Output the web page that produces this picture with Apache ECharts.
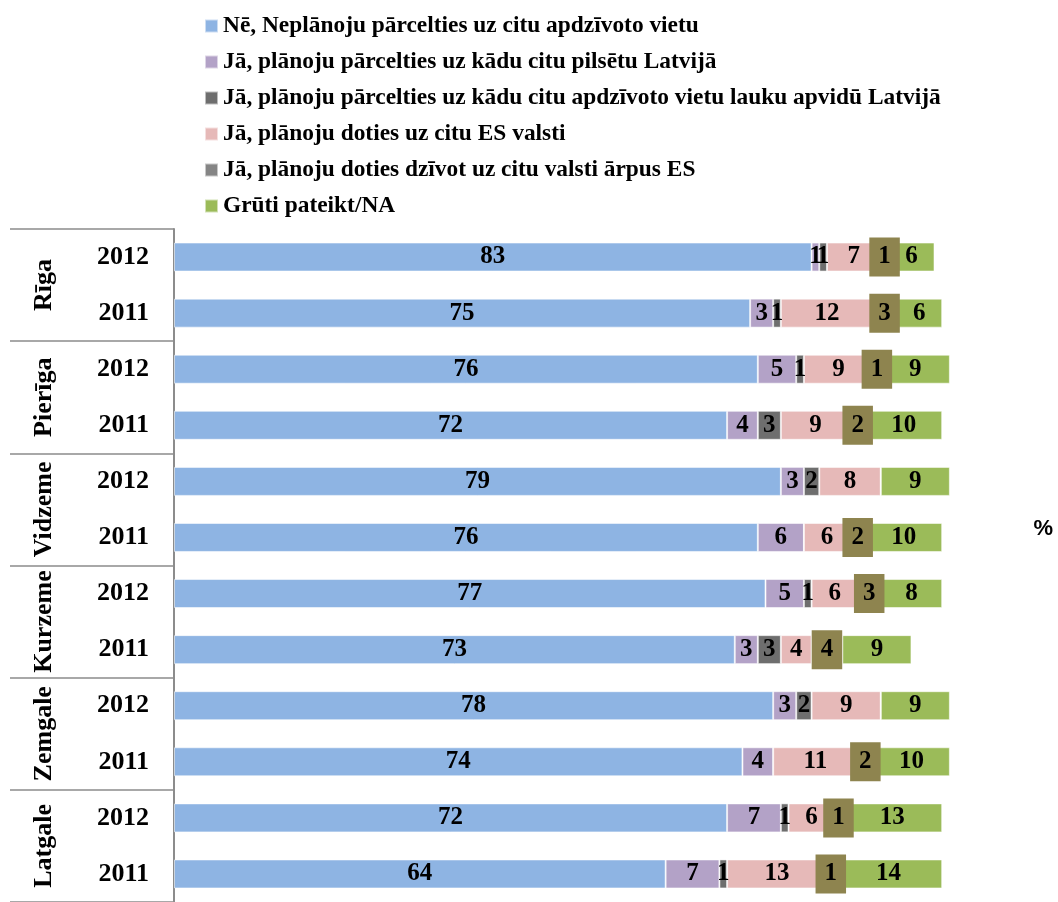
<!DOCTYPE html>
<html>
<head>
<meta charset="utf-8">
<script src="https://cdn.jsdelivr.net/npm/echarts@6/dist/echarts.min.js"></script>
<style>
  html, body { margin: 0; padding: 0; background: #fff; }
  #chart { width: 1058px; height: 902px; }
</style>
</head>
<body>
<div id="chart"></div>
<script>
// rows top to bottom
const years = ["2012", "2011", "2012", "2011", "2012", "2011", "2012", "2011", "2012", "2011", "2012", "2011"];
const regions = ["Rīga", "Pierīga", "Vidzeme", "Kurzeme", "Zemgale", "Latgale"];

const seriesNames = [
  "Nē, Neplānoju pārcelties uz citu apdzīvoto vietu",
  "Jā, plānoju pārcelties uz kādu citu pilsētu Latvijā",
  "Jā, plānoju pārcelties uz kādu citu apdzīvoto vietu lauku apvidū Latvijā",
  "Jā, plānoju doties uz citu ES valsti",
  "Jā, plānoju doties dzīvot uz citu valsti ārpus ES",
  "Grūti pateikt/NA"
];

const ne = [83, 75, 76, 72, 79, 76, 77, 73, 78, 74, 72, 64];
const pilsetu = [1, 3, 5, 4, 3, 6, 5, 3, 3, 4, 7, 7];
const lauku = [1, 1, 1, 3, 2, 0, 1, 3, 2, 0, 1, 1];
const esValsti = [7, 12, 9, 9, 8, 6, 6, 4, 9, 11, 6, 13];
const arpusEs = [1, 3, 1, 2, 0, 2, 3, 4, 0, 2, 1, 1];
const gruti = [6, 6, 9, 10, 9, 10, 8, 9, 9, 10, 13, 14];

const colors = ["#8eb4e3", "#b3a2c7", "#6e6e6e", "#e6b9b8", "#858585", "#9bbb59"];
const serif = "'Liberation Serif', 'Times New Roman', serif";

function makeSeries(i, values) {
  // zero values get no label at all (no empty box)
  var data = values.map(function(v) {
    return v > 0 ? v : { value: v, label: { show: false } };
  });
  var s = {
    name: seriesNames[i],
    type: "bar",
    stack: "total",
    barWidth: 29,
    data: data,
    itemStyle: {
      color: colors[i],
      borderColor: "rgba(255,255,255,0.55)",
      borderWidth: 1
    },
    label: {
      show: true,
      position: "inside",
      color: "#000",
      fontFamily: serif,
      fontWeight: "bold",
      fontSize: 25
    }
  };
  if (i === 4) {
    // olive box around the "outside EU" numbers
    s.z = 3;
    s.label.backgroundColor = "#8e844f";
    s.label.padding = [7, 9, 7, 9];
    s.label.lineHeight = 25;
  }
  return s;
}

const chart = echarts.init(document.getElementById("chart"));

const option = {
  animation: false,
  color: colors,
  title: {
    text: "%",
    right: 0,
    top: 513,
    textStyle: {
      fontFamily: "'Liberation Sans', Arial, sans-serif",
      fontWeight: "bold",
      fontSize: 22,
      color: "#000"
    }
  },
  legend: {
    orient: "vertical",
    left: 199,
    top: 9,
    itemWidth: 13,
    itemHeight: 13,
    itemGap: 12,
    icon: "rect",
    data: seriesNames,
    textStyle: {
      fontFamily: serif,
      fontWeight: "bold",
      fontSize: 23.4,
      lineHeight: 24,
      color: "#000"
    }
  },
  grid: {
    left: 174,
    top: 229,
    width: 845,
    height: 680
  },
  xAxis: {
    type: "value",
    min: 0,
    max: 110,
    show: false
  },
  yAxis: [
    {
      type: "category",
      data: years,
      inverse: true,
      position: "left",
      axisLine: { show: true, lineStyle: { color: "#8c8c8c", width: 2 } },
      axisTick: { show: false },
      axisLabel: {
        interval: 0,
        margin: 25,
        color: "#000",
        fontFamily: serif,
        fontWeight: "bold",
        fontSize: 26
      }
    },
    {
      // region column; its ticks draw the group separators
      type: "category",
      data: regions,
      inverse: true,
      position: "left",
      axisLine: { show: false },
      axisTick: {
        show: true,
        interval: 0,
        length: 164,
        lineStyle: { color: "#8c8c8c", width: 1.5 }
      },
      axisLabel: {
        interval: 0,
        rotate: 90,
        margin: 130,
        align: "center",
        verticalAlign: "middle",
        color: "#000",
        fontFamily: serif,
        fontWeight: "bold",
        fontSize: 26
      }
    }
  ],
  series: [
    makeSeries(0, ne),
    makeSeries(1, pilsetu),
    makeSeries(2, lauku),
    makeSeries(3, esValsti),
    makeSeries(4, arpusEs),
    makeSeries(5, gruti)
  ]
};

chart.setOption(option);
</script>
</body>
</html>
